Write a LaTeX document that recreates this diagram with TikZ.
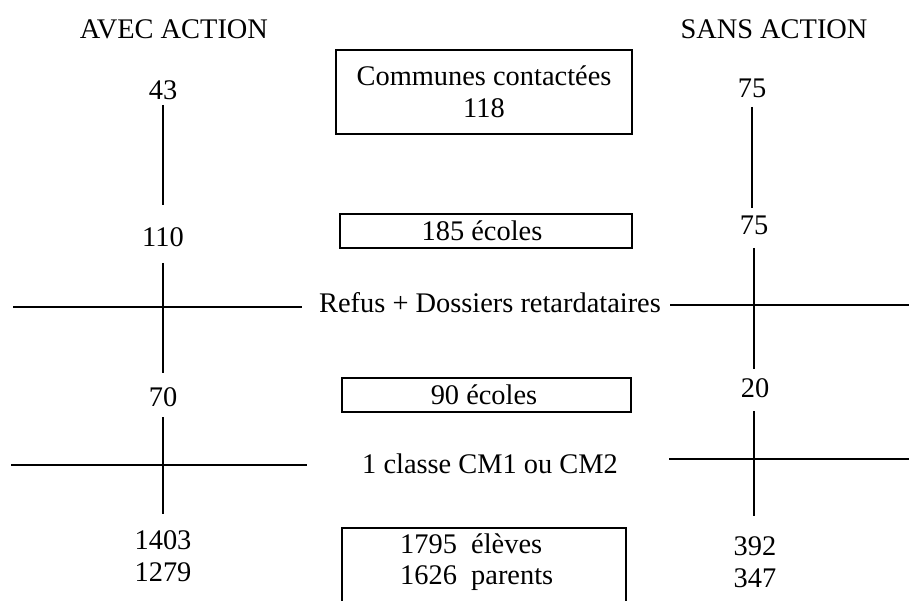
\documentclass[tikz,border=0pt]{standalone}
\usepackage{fontspec}
\setmainfont{Liberation Serif}
\begin{document}
\begin{tikzpicture}[x=1pt,y=-1pt,
  txt/.style={font=\fontsize{28.4}{31.5}\selectfont, inner sep=0pt, align=center},
  ln/.style={line width=1.3pt, black},
  boxed/.style={draw, line width=1.3pt, inner sep=0pt}]
\useasboundingbox (0,0) rectangle (909,601);
\clip (0,0) rectangle (909,601);
% headers
\node[txt] (avec) at (174,29) {AVEC ACTION};
\node[txt] (sans) at (774,29) {SANS ACTION};
% boxes
\node[boxed, txt, minimum width=296pt, minimum height=84pt] (b1) at (484,92) {Communes contactées\\[0pt]118};
\node[boxed, txt, minimum width=292pt, minimum height=34pt] (b2) at (486,231) {\hspace*{-8pt}185 écoles};
\node[boxed, txt, minimum width=289pt, minimum height=34pt] (b3) at (486.5,395) {\hspace*{-5pt}90 écoles};
\node[draw, line width=1.3pt, minimum width=284pt, minimum height=92pt, inner sep=0pt] (b4) at (484,574) {};
\node[txt, align=left, anchor=west] (b4t) at (400,562) {1795\ \ élèves\\[0pt]1626\ \ parents};
% middle labels
\node[txt] (refus) at (490,303) {Refus + Dossiers retardataires};
\node[txt] (classe) at (490,464) {1 classe CM1 ou CM2};
% left column
\node[txt] (l43) at (163,90) {43};
\node[txt] (l110) at (163,237) {110};
\node[txt] (l70) at (163,397) {70};
\node[txt, align=center] (l1403) at (163,556) {1403\\[0pt]1279};
% right column
\node[txt] (r75a) at (752,88) {75};
\node[txt] (r75b) at (754,225) {75};
\node[txt] (r20) at (755,388) {20};
\node[txt, align=center] (r392) at (755,562) {392\\[0pt]347};
% left verticals
\draw[ln, shorten <=15pt, shorten >=32pt] (l43.center) -- (l110.center);
\draw[ln, shorten <=26pt, shorten >=24pt] (l110.center) -- (l70.center);
\draw[ln, shorten <=20pt, shorten >=42pt] (l70.center) -- (l1403.center);
% right verticals
\draw[ln, shorten <=19pt, shorten >=17pt] (r75a.center) -- (r75a.center |- r75b.center);
\draw[ln, shorten <=23pt, shorten >=19pt] (r75b.center) -- (r75b.center |- r20.center);
\draw[ln, shorten <=23pt, shorten >=46pt] (r75b.center |- r20.center) -- (r75b.center |- r392.center);
% horizontals
\coordinate (hl1) at (13,307);
\coordinate (hr1) at (909,305);
\coordinate (hl2) at (11,465);
\coordinate (hr2) at (909,459);
\draw[ln] (hl1) -- (302,307);
\draw[ln] (670,305) -- (hr1);
\draw[ln] (hl2) -- (307,465);
\draw[ln] (669,459) -- (hr2);
\end{tikzpicture}
\end{document}
